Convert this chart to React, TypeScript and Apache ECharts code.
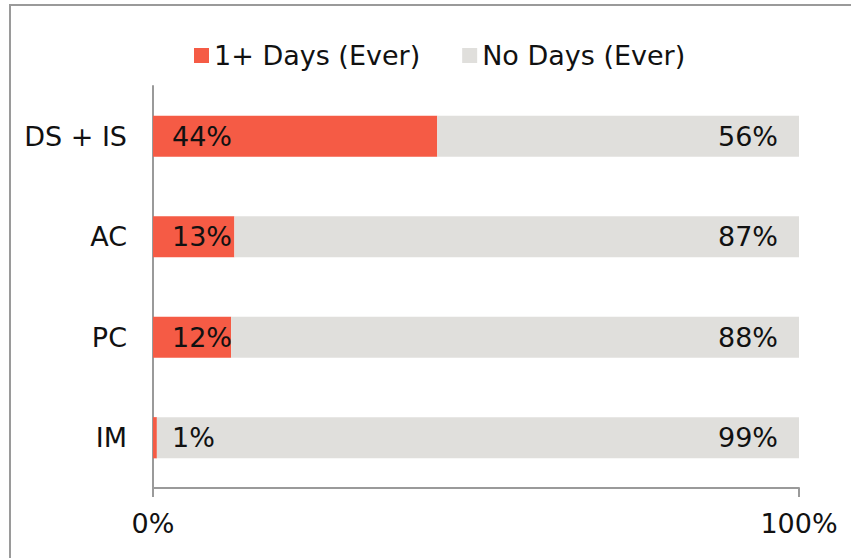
import React, { useEffect, useRef } from "react";
import * as echarts from "echarts";

const categories = ["DS + IS", "AC", "PC", "IM"];
const everValues = [44, 12.6, 12.1, 0.6];
const neverValues = [56, 87.4, 87.9, 99.4];
const seriesNames = ["1+ Days (Ever)", "No Days (Ever)"];
const xTicks = [0, 100];

const FONT = "DejaVu Sans";
const FS = 27;

export default function App() {
  const ref = useRef<HTMLDivElement>(null);
  useEffect(() => {
    document.body.style.margin = "0";
    const chart = echarts.init(ref.current!, null, { renderer: "svg" });
    const pct = (p: any) => Math.round(p.value) + "%";
    chart.setOption({
      animation: false,
      textStyle: { fontFamily: FONT },
      graphic: [
        {
          type: "rect",
          shape: { x: 10, y: 5, width: 900, height: 600 },
          style: { fill: "none", stroke: "#9a9a9a", lineWidth: 2 },
          silent: true,
        },
      ],
      legend: {
        left: 189,
        top: 37,
        itemWidth: 15,
        itemHeight: 15,
        itemGap: 42,
        icon: "rect",
        textStyle: { fontFamily: FONT, fontSize: FS, color: "#111" },
        data: seriesNames,
      },
      grid: { left: 153, right: 52, top: 86, bottom: 70, containLabel: false },
      xAxis: {
        type: "value",
        min: xTicks[0],
        max: xTicks[xTicks.length - 1],
        interval: 100,
        axisLine: { show: true, lineStyle: { color: "#9a9a9a", width: 2 } },
        axisTick: { show: true, length: 9, lineStyle: { color: "#9a9a9a", width: 2 } },
        splitLine: { show: false },
        axisLabel: {
          formatter: "{value}%",
          fontFamily: FONT,
          fontSize: FS,
          color: "#111",
          margin: 22,
        },
      },
      yAxis: {
        type: "category",
        inverse: true,
        data: categories,
        axisLine: { show: true, lineStyle: { color: "#9a9a9a", width: 2 } },
        axisTick: { show: false },
        axisLabel: { fontFamily: FONT, fontSize: FS, color: "#111", margin: 26 },
      },
      series: [
        {
          name: seriesNames[0],
          type: "bar",
          stack: "total",
          barCategoryGap: "59%",
          data: everValues,
          itemStyle: { color: "#F55B45" },
          label: {
            show: true,
            position: "insideLeft",
            distance: 19,
            formatter: pct,
            fontFamily: FONT,
            fontSize: FS,
            color: "#111",
          },
        },
        {
          name: seriesNames[1],
          type: "bar",
          stack: "total",
          barCategoryGap: "59%",
          data: neverValues,
          itemStyle: { color: "#E0DFDC" },
          label: {
            show: true,
            position: "insideRight",
            distance: 21,
            formatter: pct,
            fontFamily: FONT,
            fontSize: FS,
            color: "#111",
          },
        },
      ],
    });
    return () => chart.dispose();
  }, []);
  return (
    <div
      ref={ref}
      style={{ position: "absolute", left: 0, top: 0, width: 851, height: 558, background: "#fff" }}
    />
  );
}
